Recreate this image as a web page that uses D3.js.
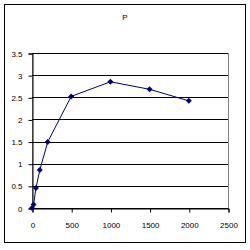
<!DOCTYPE html>
<html>
<head>
<meta charset="utf-8">
<script src="https://cdn.jsdelivr.net/npm/d3@7"></script>
<style>
  body { margin: 0; background: #fff; }
  text { font-family: "Liberation Sans", Arial, sans-serif; font-size: 8px; fill: #000; }
</style>
</head>
<body>
<svg id="chart"></svg>
<script>
const xValues = [0, 20, 50, 100, 200, 500, 1000, 1500, 2000];
const yValues = [0, 0.08, 0.45, 0.86, 1.49, 2.52, 2.85, 2.68, 2.42];
const xTicks = [0, 500, 1000, 1500, 2000, 2500];
const yTicks = [0, 0.5, 1, 1.5, 2, 2.5, 3, 3.5];
const title = 'P';

const svg = d3.select('#chart').attr('width', 250).attr('height', 250);

// outer chart border
svg.append('rect')
  .attr('x', 4.5).attr('y', 4.5)
  .attr('width', 241).attr('height', 238)
  .attr('fill', '#fff').attr('stroke', '#000');

const x = d3.scaleLinear().domain([0, 2500]).range([32, 228]);
const y = d3.scaleLinear().domain([0, 3.5]).range([208, 53]);

// plot area frame (grey)
svg.append('rect')
  .attr('x', x(0) + 0.5).attr('y', y(3.5) + 0.5)
  .attr('width', x(2500) - x(0)).attr('height', y(0) - y(3.5))
  .attr('fill', 'none').attr('stroke', '#808080');

// horizontal gridlines
svg.selectAll('.grid')
  .data(yTicks)
  .join('line')
  .attr('x1', x(0)).attr('x2', x(2500))
  .attr('y1', d => Math.round(y(d)) + 0.5)
  .attr('y2', d => Math.round(y(d)) + 0.5)
  .attr('stroke', '#000');

// y axis
const yAxis = svg.append('g')
  .attr('transform', `translate(${x(0) + 0.5},0.5)`)
  .call(d3.axisLeft(y).tickValues(yTicks).tickSize(4).tickFormat(d => d));
yAxis.select('.domain').attr('stroke', '#000');
yAxis.selectAll('text').attr('font-size', 8).attr('font-family', 'Liberation Sans, Arial, sans-serif').attr('dx', -3);

// x axis
const xAxis = svg.append('g')
  .attr('transform', `translate(0.5,${y(0) + 0.5})`)
  .call(d3.axisBottom(x).tickValues(xTicks).tickSize(4).tickFormat(d => d));
xAxis.select('.domain').attr('stroke', '#000');
xAxis.selectAll('text').attr('font-size', 8).attr('font-family', 'Liberation Sans, Arial, sans-serif').attr('dy', '1.55em');

// title
svg.append('text')
  .attr('x', 125).attr('y', 20)
  .attr('text-anchor', 'middle')
  .attr('font-size', 8)
  .text(title);

const points = xValues.map((d, i) => [d, yValues[i]]);

// series line
svg.append('path')
  .datum(points)
  .attr('fill', 'none')
  .attr('stroke', '#000080')
  .attr('stroke-width', 1)
  .attr('d', d3.line().x(d => x(d[0])).y(d => y(d[1])));

// diamond markers
svg.selectAll('.marker')
  .data(points)
  .join('path')
  .attr('class', 'marker')
  .attr('transform', d => `translate(${x(d[0])},${y(d[1])})`)
  .attr('d', 'M0,-3L3,0L0,3L-3,0Z')
  .attr('fill', '#000080');
</script>
</body>
</html>
